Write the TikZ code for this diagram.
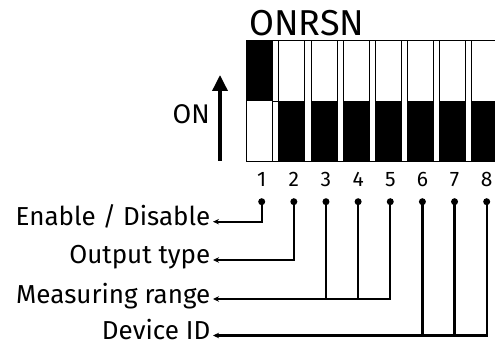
\documentclass[tikz,border=0pt]{standalone}
\usepackage{fontspec}
\setmainfont{Fira Sans}
\usetikzlibrary{arrows.meta}
\begin{document}
\begin{tikzpicture}[x=1pt,y=-1pt,
  lbl/.style={font=\fontsize{26}{30}\selectfont, anchor=east, inner ysep=0pt, inner xsep=2.5pt, text height=12pt, text depth=4pt},
  num/.style={font=\fontsize{21}{25}\selectfont, anchor=base, inner sep=0pt},
  lead/.style={line width=2.2pt, -{Stealth[length=6pt,width=5.5pt]}},
  wire/.style={line width=2.2pt},
  pin/.style={circle, fill=black, inner sep=0pt, minimum size=7pt},
  swframe/.style={draw=black, line width=0.9pt},
  onarrow/.style={line width=3.5pt, -{Triangle[length=16pt,width=15pt]}}]
\useasboundingbox (0,0) rectangle (495,347);
% title
\node[font=\fontsize{36}{42}\selectfont, anchor=base west, inner sep=0pt] (title) at (249,35.5) {ONRSN};
% switch block
\draw[swframe] (246.7,40) -- (495,40);
\draw[swframe] (246.7,161) -- (495,161);
\foreach \k in {1,...,8}{
  \pgfmathsetmacro\xl{246.7+(\k-1)*32.15}
  \ifnum\k=1
    \fill[black] (\xl,40) rectangle (\xl+26,101);
    \draw[swframe] (\xl+26,101) -- (\xl+31,101);
  \else
    \fill[black] (\xl,101) rectangle (\xl+26,161);
  \fi
  \draw[swframe] (\xl,40) rectangle (\xl+26,161);
}
% ON arrow
\coordinate (arrB) at (220,161);
\coordinate (arrT) at (220,75);
\draw[onarrow] (arrB) -- (arrT);
\node[font=\fontsize{27}{32}\selectfont, anchor=base east, inner sep=0pt] (on) at (210,123.3) {ON};
% numbers and pins
\foreach \k in {1,...,8}{
  \pgfmathsetmacro\xd{261.7+(\k-1)*32.14}
  \node[num] (n\k) at (\xd,187) {\k};
  \node[pin] (d\k) at (\xd,201.7) {};
}
% labels
\node[lbl] (L1) at (213,221.7) {Enable / Disable};
\node[lbl] (L2) at (213,260) {Output type};
\node[lbl] (L3) at (213,299) {Measuring range};
\node[lbl] (L4) at (213,335.5) {Device ID};
% connectors
\draw[lead] (d1.center) |- (L1.east);
\draw[lead] (d2.center) |- (L2.east);
\draw[lead] (d5.center) |- (L3.east);
\draw[wire] (d3.center) -- (d3.center |- L3.east);
\draw[wire] (d4.center) -- (d4.center |- L3.east);
\draw[lead] (d8.center) |- (L4.east);
\draw[wire] (d6.center) -- (d6.center |- L4.east);
\draw[wire] (d7.center) -- (d7.center |- L4.east);
\end{tikzpicture}
\end{document}
